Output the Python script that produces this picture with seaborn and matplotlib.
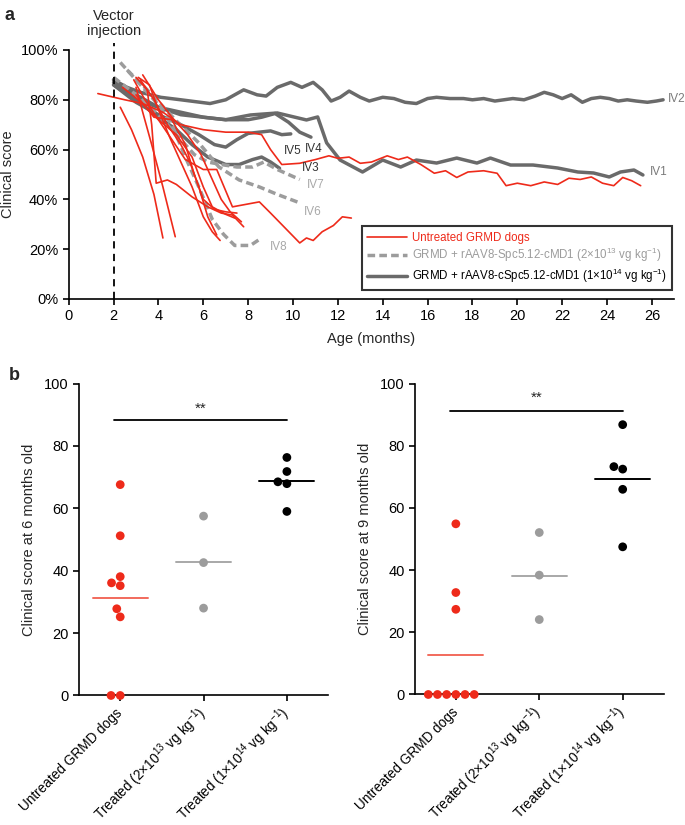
import numpy as np
import pandas as pd
import seaborn as sns
import matplotlib.pyplot as plt
from matplotlib.lines import Line2D

# ---- panel a : clinical score over age (months, %) ----
# untreated GRMD dogs
untreated_1_x = [1.3, 2.5, 3.3, 4.2, 5.0, 6.0, 7.0, 8.0, 8.6, 9.0, 9.5, 10.3, 11.0, 11.6, 12.0, 12.5, 13.0,
                 13.5, 14.2, 14.7, 15.1, 15.7, 16.3, 16.8, 17.3, 17.8, 18.5, 19.1, 19.5, 20.0, 20.6, 21.2,
                 21.8, 22.3, 22.8, 23.3, 23.8, 24.3, 24.7, 25.1, 25.5]
untreated_1_y = [82.5, 80, 78.5, 75, 70, 68, 67, 67, 66, 60, 54, 54.5, 56, 57.5, 56.5, 57, 54.5,
                 55, 57.5, 56, 57, 54, 50.5, 51.5, 48.8, 51, 51.5, 50.5, 45.5, 46.5, 45.5, 47,
                 46, 48.5, 48, 49, 46.5, 45.5, 48.8, 47.5, 45.5]
untreated_2_x = [2.9, 3.4, 4.0, 4.6, 5.2, 6.0, 6.6, 7.3, 8.5, 9.0, 10.3, 10.6, 10.9, 11.3, 11.8, 12.2, 12.6]
untreated_2_y = [88, 80, 72, 64, 56, 52, 52, 37, 39, 34.5, 22.5, 24.5, 23.5, 27, 29.5, 33, 32.5]
untreated_3_x = [2.3, 2.8, 3.3, 3.8, 4.2]
untreated_3_y = [77, 68, 57, 42, 24.5]
untreated_4_x = [3.0, 3.3, 3.7, 4.2, 4.75]
untreated_4_y = [85, 75, 62, 45, 25]
untreated_5_x = [3.0, 3.5, 3.7, 3.9, 4.4, 4.8, 5.5, 6.2, 6.8, 7.3, 7.8]
untreated_5_y = [89, 84, 70, 46.5, 47.8, 46, 41, 37, 34.5, 33.7, 29]
untreated_6_x = [3.1, 3.6, 4.0, 4.5, 5.0, 5.5, 6.0, 6.4, 6.75]
untreated_6_y = [89, 86, 76, 65, 55, 45, 33, 27, 23.5]
untreated_7_x = [3.2, 3.8, 4.4, 5.0, 5.4, 5.8, 6.2, 6.6]
untreated_7_y = [88, 80, 70, 62, 55, 45, 33, 25.7]
untreated_8_x = [3.0, 3.8, 4.6, 5.2, 5.6, 6.0, 6.5, 7.0, 7.5]
untreated_8_y = [82, 73, 72, 62, 50, 40, 36, 35, 34.5]
untreated_9_x = [2.4, 3.1, 4.0, 4.8, 5.5, 6.0, 6.4, 7.0, 7.4]
untreated_9_y = [85, 80, 72, 66, 57, 45, 37, 34, 32.5]
untreated_10_x = [3.3, 4.0, 4.6, 5.3, 5.9, 6.4, 6.8, 7.2, 7.7]
untreated_10_y = [90, 80, 73, 66, 58, 48, 40, 35, 31]

# GRMD + rAAV8-Spc5.12-cMD1 (2e13), dashed
iv6_x = [2.6, 3.5, 4.8, 5.8, 6.7, 7.6, 8.5, 9.3, 10.3]
iv6_y = [92, 84, 71.5, 62.7, 53, 47.8, 45, 42, 38.6]
iv7_x = [2.0, 3.0, 4.0, 5.0, 5.6, 6.2, 6.8, 7.5, 8.2, 8.7, 9.3, 10.3]
iv7_y = [89, 82, 74, 64, 58, 55, 54, 53, 53, 55, 52, 48]
iv8_x = [2.3, 3.0, 4.0, 4.6, 5.2, 5.8, 6.4, 6.9, 7.4, 8.1, 8.6]
iv8_y = [95, 88, 78, 70, 57, 45, 32, 26, 21.5, 21.5, 24.5]

# GRMD + rAAV8-cSpc5.12-cMD1 (1e14), solid
iv1_x = [2.0, 3.0, 4.0, 5.0, 6.0, 7.0, 8.1, 9.3, 10.6, 11.1, 11.5, 12.1, 13.1, 14.0, 14.8, 15.5, 16.4,
         17.3, 18.2, 18.8, 19.7, 20.7, 21.8, 22.7, 23.4, 24.1, 24.6, 25.2, 25.6]
iv1_y = [87, 80, 77, 75, 73, 72, 73.9, 74.7, 71.9, 73.1, 62.7, 55.8, 51, 55.8, 53, 55.8, 54.6,
         56.6, 54.6, 56.6, 53.8, 53.8, 52.6, 51, 50.6, 49, 51, 51.8, 49.8]
iv2_x = [2.0, 2.6, 3.2, 4.1, 5.0, 6.3, 7.0, 7.8, 8.4, 8.8, 9.3, 9.9, 10.4, 10.9, 11.3, 11.7, 12.1, 12.5,
         13.0, 13.4, 14.0, 14.5, 15.0, 15.5, 16.0, 16.4, 17.0, 17.6, 18.0, 18.5, 19.0, 19.4, 19.8, 20.3,
         20.8, 21.2, 21.6, 22.0, 22.4, 22.9, 23.3, 23.7, 24.1, 24.5, 24.9, 25.3, 25.8, 26.2, 26.5]
iv2_y = [88, 85, 83, 81, 80, 78.5, 80, 84, 82, 81.5, 85, 87, 85, 87, 84, 79.5, 81, 83.5,
         81, 79.5, 81, 80.5, 79, 78.5, 80.5, 81, 80.5, 80.5, 80, 80.5, 79.5, 80, 80.5, 80,
         81.5, 83, 82, 80.5, 82, 79, 80.5, 81, 80.5, 79.5, 80, 79.5, 79, 79.5, 80]
iv3_x = [2.0, 3.0, 4.0, 4.8, 5.5, 6.2, 7.0, 7.6, 8.2, 8.6, 9.0, 9.4]
iv3_y = [86, 80, 73, 68, 62, 57, 54, 54, 56, 57, 55, 52.5]
iv4_x = [2.0, 3.0, 4.0, 5.0, 6.0, 7.0, 8.0, 8.6, 9.2, 9.8, 10.3, 10.8]
iv4_y = [88, 82, 77, 74, 73, 72, 72, 73, 74.5, 71, 67, 65]
iv5_x = [2.0, 3.0, 4.0, 5.0, 5.8, 6.5, 7.0, 7.5, 8.0, 8.5, 9.0, 9.5, 9.9]
iv5_y = [86, 79, 74, 70, 66, 62, 61, 64, 66.5, 67, 67.5, 66, 66.3]

# label text for each treated dog and where it sits
dog_labels = ['IV1', 'IV2', 'IV3', 'IV4', 'IV5', 'IV6', 'IV7', 'IV8']
label_x = [25.9, 26.7, 10.4, 10.55, 9.6, 10.5, 10.6, 8.95]
label_y = [51, 80.2, 52.5, 60.1, 59.4, 34.8, 45.8, 21.0]

# ---- panel b : clinical score at 6 and 9 months ----
groups = ['Untreated GRMD dogs', 'Treated (2×10$^{13}$ vg kg$^{-1}$)', 'Treated (1×10$^{14}$ vg kg$^{-1}$)']
score6_untreated = [67.6, 51.2, 38.1, 35.2, 36.1, 27.8, 25.2, 0, 0]
score6_low = [57.5, 42.6, 28.0]
score6_high = [76.3, 71.8, 68.5, 67.9, 59.0]
score9_untreated = [54.9, 32.8, 27.4, 0, 0, 0, 0, 0, 0]
score9_low = [52.1, 38.4, 24.1]
score9_high = [86.8, 72.5, 73.3, 66.0, 47.5]

RED = '#ee2a1a'
DARK = '#6a6a6a'
LIGHT = '#9c9c9c'

sns.set_theme(style='ticks')
plt.rcParams['font.family'] = ['Liberation Sans', 'DejaVu Sans']
plt.rcParams['mathtext.fontset'] = 'custom'
plt.rcParams['mathtext.rm'] = 'Liberation Sans'
plt.rcParams['mathtext.default'] = 'regular'
plt.rcParams['axes.linewidth'] = 1.2
plt.rcParams['xtick.major.width'] = 1.2
plt.rcParams['ytick.major.width'] = 1.2
plt.rcParams['xtick.color'] = 'black'
plt.rcParams['ytick.color'] = 'black'
plt.rcParams['axes.edgecolor'] = 'black'

fig = plt.figure(figsize=(6.85, 8.25), dpi=100)

# ---------------- panel a ----------------
series = [
    ('u1', 'untreated', untreated_1_x, untreated_1_y),
    ('u2', 'untreated', untreated_2_x, untreated_2_y),
    ('u3', 'untreated', untreated_3_x, untreated_3_y),
    ('u4', 'untreated', untreated_4_x, untreated_4_y),
    ('u5', 'untreated', untreated_5_x, untreated_5_y),
    ('u6', 'untreated', untreated_6_x, untreated_6_y),
    ('u7', 'untreated', untreated_7_x, untreated_7_y),
    ('u8', 'untreated', untreated_8_x, untreated_8_y),
    ('u9', 'untreated', untreated_9_x, untreated_9_y),
    ('u10', 'untreated', untreated_10_x, untreated_10_y),
    ('IV1', 'high', iv1_x, iv1_y),
    ('IV2', 'high', iv2_x, iv2_y),
    ('IV3', 'high', iv3_x, iv3_y),
    ('IV4', 'high', iv4_x, iv4_y),
    ('IV5', 'high', iv5_x, iv5_y),
    ('IV6', 'low', iv6_x, iv6_y),
    ('IV7', 'low', iv7_x, iv7_y),
    ('IV8', 'low', iv8_x, iv8_y),
]
rows = []
for dog, grp, xs, ys in series:
    for xv, yv in zip(xs, ys):
        rows.append((dog, grp, xv, yv))
df_a = pd.DataFrame(rows, columns=['dog', 'group', 'month', 'score'])

ax = fig.add_axes([0.1003, 0.6376, 0.8841, 0.3018])
sns.lineplot(data=df_a, x='month', y='score', hue='group', style='group', size='group',
             units='dog', estimator=None, sort=False, ax=ax, legend=False,
             hue_order=['high', 'low', 'untreated'],
             palette={'untreated': RED, 'low': LIGHT, 'high': DARK},
             dashes={'untreated': '', 'low': (2.2, 1.2), 'high': ''},
             sizes={'untreated': 1.2, 'low': 2.5, 'high': 2.5})

ax.plot([2, 2], [0, 103], color='black', linestyle=(0, (4, 3)), linewidth=1.3, clip_on=False)
ax.text(2, 105, 'Vector\ninjection', ha='center', va='bottom', fontsize=10.5, linespacing=1.05)

label_colors = ['#7a7a7a', '#7a7a7a', '#333333', '#333333', '#333333', '#a8a8a8', '#a8a8a8', '#a8a8a8']
for name, lx, ly, lc in zip(dog_labels, label_x, label_y, label_colors):
    ax.text(lx, ly, name, ha='left', va='center', fontsize=8.5, color=lc)

ax.set_xlim(0, 27)
ax.set_ylim(0, 100)
ax.set_xticks(range(0, 27, 2))
ax.set_yticks(range(0, 101, 20))
ax.set_yticklabels([f'{v}%' for v in range(0, 101, 20)])
ax.set_xlabel('Age (months)', fontsize=10.5, labelpad=6)
ax.set_ylabel('Clinical score', fontsize=10.5, labelpad=4)
ax.tick_params(labelsize=10.5, length=4, direction='out')
sns.despine(ax=ax)

handles = [Line2D([], [], color=RED, lw=1.2),
           Line2D([], [], color=LIGHT, lw=2.5, linestyle=(0, (2.2, 1.2))),
           Line2D([], [], color=DARK, lw=2.5)]
leg_labels = ['Untreated GRMD dogs',
              'GRMD + rAAV8-Spc5.12-cMD1 (2×10$^{13}$ vg kg$^{-1}$)',
              'GRMD + rAAV8-cSpc5.12-cMD1 (1×10$^{14}$ vg kg$^{-1}$)']
leg = ax.legend(handles, leg_labels, loc='lower right', bbox_to_anchor=(0.997, 0.035),
                borderaxespad=0, fontsize=8.3, frameon=True, fancybox=False, handlelength=3.4,
                borderpad=0.45, labelspacing=0.22, handletextpad=0.5)
leg.get_frame().set_edgecolor('black')
leg.get_frame().set_linewidth(1.5)
for txt, col in zip(leg.get_texts(), [RED, LIGHT, 'black']):
    txt.set_color(col)

fig.text(0.006, 0.992, 'a', fontsize=13, fontweight='bold', va='top')

# ---------------- panel b ----------------
def scatter_panel(ax, untreated, low, high, ylabel, bar_y, star_y):
    df = pd.DataFrame({
        'group': [groups[0]] * len(untreated) + [groups[1]] * len(low) + [groups[2]] * len(high),
        'score': untreated + low + high,
    })
    pal = {groups[0]: RED, groups[1]: LIGHT, groups[2]: 'black'}
    sns.swarmplot(data=df, x='group', y='score', hue='group', palette=pal, order=groups,
                  size=6.3, ax=ax, legend=False, clip_on=False, zorder=3)
    means = df.groupby('group', sort=False)['score'].mean()
    mean_cols = ['#f26a5c', '#a8a8a8', 'black']
    for i, g in enumerate(groups):
        ax.plot([i - 0.33, i + 0.33], [means[g], means[g]], color=mean_cols[i], lw=1.4, zorder=2)
    ax.plot([-0.07, 2.0], [bar_y, bar_y], color='black', lw=1.3)
    ax.text(0.97, star_y, '**', ha='center', va='center', fontsize=11)
    ax.set_xlim(-0.49, 2.49)
    ax.set_ylim(0, 100)
    ax.set_yticks(range(0, 101, 20))
    ax.set_xlabel('')
    ax.set_ylabel(ylabel, fontsize=10.5, labelpad=6)
    ax.set_xticks(range(3))
    ax.set_xticklabels(groups, rotation=45, ha='right', va='center', rotation_mode='anchor',
                       fontsize=9.8)
    ax.tick_params(axis='y', labelsize=10.5, length=4)
    ax.tick_params(axis='x', length=4, pad=7)
    sns.despine(ax=ax)


ax_b1 = fig.add_axes([0.1159, 0.1570, 0.3625, 0.3781])
scatter_panel(ax_b1, score6_untreated, score6_low, score6_high,
              'Clinical score at 6 months old', 88.4, 92.0)
ax_b2 = fig.add_axes([0.6058, 0.1582, 0.3629, 0.3768])
scatter_panel(ax_b2, score9_untreated, score9_low, score9_high,
              'Clinical score at 9 months old', 91.1, 95.6)

fig.text(0.013, 0.555, 'b', fontsize=13, fontweight='bold', va='top')

fig.savefig('out.png', dpi=100)
